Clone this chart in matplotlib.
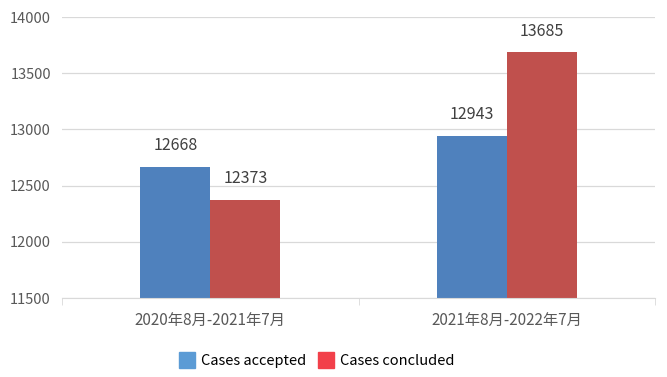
import numpy as np
import matplotlib.pyplot as plt
from matplotlib.patches import Patch

plt.rcParams['font.family'] = ['Noto Sans CJK SC', 'DejaVu Sans']

# datos
periods = ['2020年8月-2021年7月', '2021年8月-2022年7月']
accepted = [12668, 12943]
concluded = [12373, 13685]
series_names = ['Cases accepted', 'Cases concluded']

fig = plt.figure(figsize=(6.67, 3.77), dpi=100)
ax = fig.add_axes([0.093, 0.2095, 0.889, 0.7454])

x = np.arange(len(periods))
w = 0.236
b1 = ax.bar(x - w / 2, accepted, w, color='#4F81BD')
b2 = ax.bar(x + w / 2, concluded, w, color='#C0504D')

for bars in (b1, b2):
    for r in bars:
        ax.annotate(str(int(r.get_height())), (r.get_x() + r.get_width() / 2, r.get_height()),
                    xytext=(0, 9), textcoords='offset points', ha='center', va='bottom',
                    fontsize=11.5, color='#404040')

ax.set_ylim(11500, 14000)
ax.set_xlim(-0.5, 1.5)
ax.set_yticks(np.arange(11500, 14001, 500))
ax.grid(axis='y', color='#D9D9D9', linewidth=0.9)
ax.set_axisbelow(True)
for s in ['top', 'right', 'left']:
    ax.spines[s].set_visible(False)
ax.spines['bottom'].set_color('#D9D9D9')
ax.tick_params(axis='y', length=0, labelsize=10.5, labelcolor='#595959', pad=8)
ax.set_xticks(x)
ax.set_xticklabels(periods)
ax.tick_params(axis='x', length=0, labelsize=11, labelcolor='#595959', pad=10)
ax.set_xticks([-0.5, 0.5, 1.5], minor=True)
ax.tick_params(axis='x', which='minor', length=5, color='#D9D9D9')

handles = [Patch(color='#5B9BD5'), Patch(color='#F2404A')]
fig.legend(handles, series_names, loc='center', bbox_to_anchor=(0.475, 0.045), ncol=2,
           frameon=False, fontsize=10.5, handlelength=1.1, handleheight=1.3,
           handletextpad=0.4, columnspacing=0.8)

fig.savefig('out.png', dpi=100)
